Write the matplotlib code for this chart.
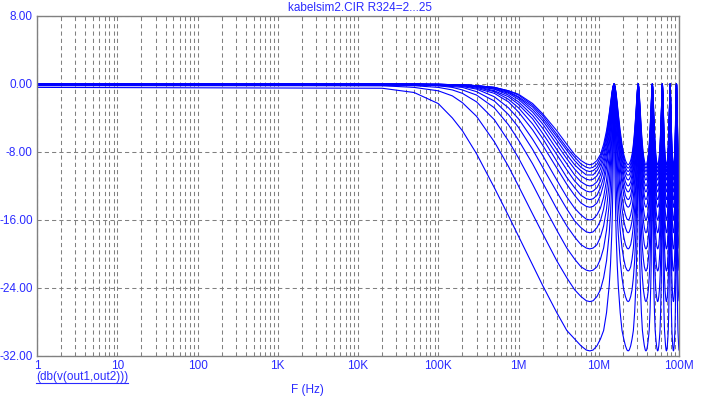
import numpy as np
import matplotlib.pyplot as plt
from matplotlib.lines import Line2D
from matplotlib.ticker import FixedLocator, NullFormatter

# distance from the nearest response peak (Hz); the response repeats every 15.5 MHz
offsets_hz = [0, 20e3, 50e3, 100e3, 150e3, 200e3, 300e3, 500e3, 750e3, 1e6,
              1.5e6, 2e6, 3e6, 4e6, 5e6, 6e6, 7e6, 7.75e6]
peaks_hz = [15.5e6, 31e6, 46.5e6, 62e6, 77.5e6, 93e6]

# dB read at each offset, one row per stepped R324 value (2 ... 25)
r324_curves_db = [
    [0.0, 0.0, 0.0, 0.0, -0.1, -0.1, -0.2, -0.4, -0.8, -1.2, -2.3, -3.5, -5.5, -7.1, -8.3, -9.0, -9.4, -9.5],
    [0.0, 0.0, 0.0, 0.0, -0.1, -0.1, -0.2, -0.4, -0.8, -1.3, -2.5, -3.7, -5.9, -7.5, -8.6, -9.4, -9.8, -9.9],
    [0.0, 0.0, 0.0, -0.1, -0.1, -0.1, -0.2, -0.4, -0.9, -1.5, -2.7, -4.0, -6.2, -7.8, -9.0, -9.8, -10.2, -10.3],
    [0.0, 0.0, 0.0, -0.1, -0.1, -0.1, -0.2, -0.5, -1.0, -1.6, -3.0, -4.3, -6.6, -8.3, -9.5, -10.2, -10.7, -10.7],
    [0.0, 0.0, 0.0, -0.1, -0.1, -0.1, -0.2, -0.6, -1.1, -1.8, -3.3, -4.7, -7.1, -8.8, -10.0, -10.8, -11.2, -11.3],
    [0.0, 0.0, 0.0, -0.1, -0.1, -0.1, -0.3, -0.6, -1.3, -2.1, -3.7, -5.2, -7.7, -9.4, -10.7, -11.5, -11.9, -12.0],
    [0.0, 0.0, -0.1, -0.1, -0.1, -0.2, -0.3, -0.8, -1.5, -2.4, -4.1, -5.8, -8.3, -10.1, -11.4, -12.2, -12.6, -12.7],
    [0.0, 0.0, -0.1, -0.1, -0.1, -0.2, -0.4, -0.9, -1.8, -2.8, -4.7, -6.4, -9.1, -11.0, -12.2, -13.1, -13.5, -13.6],
    [-0.1, -0.1, -0.1, -0.1, -0.2, -0.2, -0.5, -1.1, -2.1, -3.3, -5.4, -7.2, -9.9, -11.8, -13.1, -14.0, -14.4, -14.5],
    [-0.1, -0.1, -0.1, -0.1, -0.2, -0.3, -0.6, -1.5, -2.8, -4.1, -6.5, -8.4, -11.3, -13.3, -14.6, -15.4, -15.9, -16.0],
    [-0.1, -0.1, -0.1, -0.2, -0.3, -0.4, -0.9, -2.0, -3.6, -5.1, -7.7, -9.8, -12.7, -14.7, -16.1, -16.9, -17.4, -17.5],
    [-0.1, -0.1, -0.1, -0.2, -0.4, -0.7, -1.3, -2.8, -4.8, -6.6, -9.4, -11.6, -14.7, -16.7, -18.0, -18.9, -19.3, -19.4],
    [-0.1, -0.2, -0.2, -0.4, -0.7, -1.1, -2.1, -4.2, -6.7, -8.7, -11.8, -14.1, -17.2, -19.3, -20.6, -21.5, -21.9, -22.0],
    [-0.2, -0.2, -0.4, -0.8, -1.4, -2.2, -3.8, -6.8, -9.7, -12.0, -15.3, -17.6, -20.8, -22.8, -24.2, -25.0, -25.5, -25.6],
    [-0.4, -0.5, -1.0, -2.3, -4.0, -5.5, -8.2, -12.2, -15.5, -17.9, -21.3, -23.7, -26.9, -29.0, -30.0, -30.8, -31.3, -31.4],
]

y_ticks = [8, 0, -8, -16, -24, -32]
x_ticks = [1, 10, 100, 1e3, 1e4, 1e5, 1e6, 1e7, 1e8]
x_tick_labels = ['1', '10', '100', '1K', '10K', '100K', '1M', '10M', '100M']

txt_col = '#2a2aff'
grid_col = '#808080'
plt.rcParams['font.family'] = ['Liberation Sans', 'DejaVu Sans']

fig = plt.figure(figsize=(7.03, 3.97), dpi=100)
ax = fig.add_axes([37 / 703, 1 - 356 / 397, 642 / 703, 340 / 397])

off = np.array(offsets_hz)
for row in r324_curves_db:
    v = np.array(row)
    f = [np.r_[1.0, off[1:]]]
    d = [v]
    for p in peaks_hz:
        f.append(p - off[::-1][1:])
        d.append(v[::-1][1:])
        f.append(p + off[1:])
        d.append(v[1:])
    f = np.concatenate(f)
    d = np.concatenate(d)
    keep = f <= 1e8
    ax.plot(f[keep], d[keep], color='#0000ff', lw=0.8)

ax.set_xscale('log')
ax.set_xlim(1, 1e8)
ax.set_ylim(-32, 8)

minor = [m * 10 ** e for e in range(8) for m in range(2, 10)]
ax.xaxis.set_major_locator(FixedLocator(x_ticks))
ax.xaxis.set_minor_locator(FixedLocator(minor))
ax.xaxis.set_minor_formatter(NullFormatter())
ax.set_xticklabels(x_tick_labels)
ax.set_yticks(y_ticks)
ax.set_yticklabels(['%.2f' % t for t in y_ticks])

ax.tick_params(which='both', length=0, labelsize=8.5, labelcolor=txt_col)
ax.tick_params(axis='x', pad=3)
ax.tick_params(axis='y', pad=3)

ax.grid(which='both', axis='x', color=grid_col, lw=0.75, dashes=(4, 3))
ax.grid(which='major', axis='y', color=grid_col, lw=0.75, dashes=(4, 3))
for s in ax.spines.values():
    s.set_color(grid_col)
    s.set_linewidth(1.0)

fig.text(360 / 703, 1 - 8 / 397, 'kabelsim2.CIR R324=2...25', color=txt_col,
         fontsize=8.5, ha='center', va='center')
fig.text(307 / 703, 1 - 390 / 397, 'F (Hz)', color=txt_col, fontsize=8.5,
         ha='center', va='center')
lbl = fig.text(36 / 703, 1 - 377 / 397, '(db(v(out1,out2)))', color=txt_col,
               fontsize=8.5, ha='left', va='center')

fig.canvas.draw()
bb = lbl.get_window_extent()
yl = bb.y0 + 0.5
fig.add_artist(Line2D([bb.x0 / 703, bb.x1 / 703], [yl / 397, yl / 397],
                      transform=fig.transFigure, color=txt_col, lw=0.8))

fig.savefig('out.png', dpi=100)
